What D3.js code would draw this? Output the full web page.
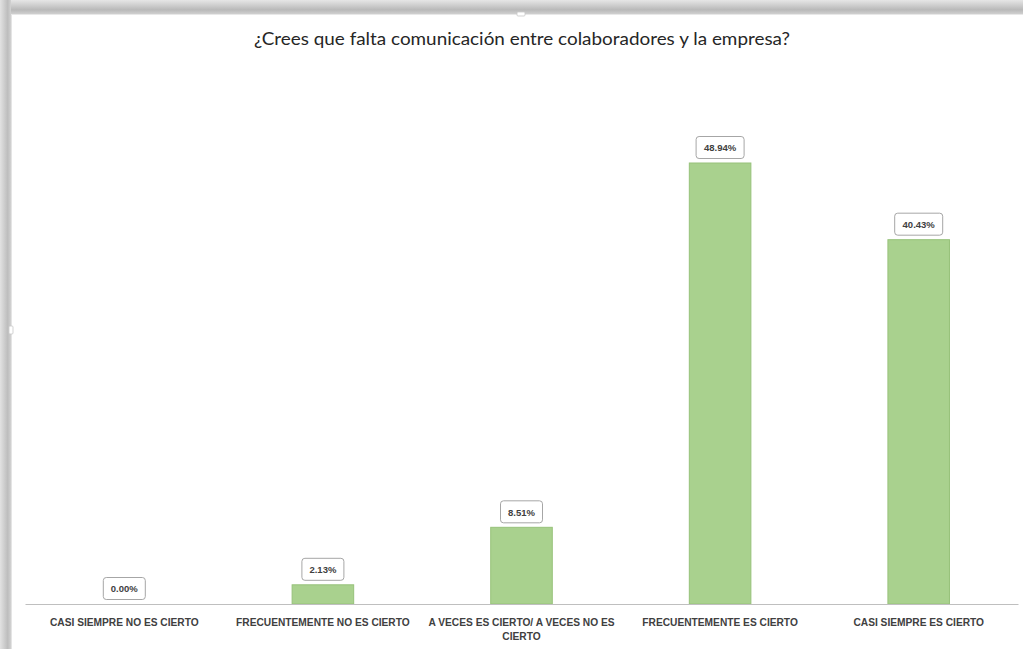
<!DOCTYPE html>
<html>
<head>
<meta charset="utf-8">
<script src="https://cdn.jsdelivr.net/npm/d3@7"></script>
<style>
  html, body { margin: 0; padding: 0; background: #fff; }
  svg { display: block; }
</style>
</head>
<body>
<svg id="chart" width="1023" height="649"></svg>
<script>
// Survey answers and their share of responses (%)
const categories = [
  "CASI SIEMPRE NO ES CIERTO",
  "FRECUENTEMENTE NO ES CIERTO",
  "A VECES ES CIERTO/ A VECES NO ES CIERTO",
  "FRECUENTEMENTE ES CIERTO",
  "CASI SIEMPRE ES CIERTO"
];
const values = [0.00, 2.13, 8.51, 48.94, 40.43];
const title = "¿Crees que falta comunicación entre colaboradores y la empresa?";

const W = 1023, H = 649;
const svg = d3.select("#chart");

// Card shadow around the chart area
const defs = svg.append("defs");
const gTop = defs.append("linearGradient").attr("id", "shTop").attr("x1", 0).attr("y1", 0).attr("x2", 0).attr("y2", 1);
gTop.append("stop").attr("offset", "0%").attr("stop-color", "#e6e6e6");
gTop.append("stop").attr("offset", "70%").attr("stop-color", "#b9b9b9");
gTop.append("stop").attr("offset", "100%").attr("stop-color", "#d0d0d0");
const gLeft = defs.append("linearGradient").attr("id", "shLeft").attr("x1", 0).attr("y1", 0).attr("x2", 1).attr("y2", 0);
gLeft.append("stop").attr("offset", "0%").attr("stop-color", "#e2e2e2");
gLeft.append("stop").attr("offset", "70%").attr("stop-color", "#bdbdbd");
gLeft.append("stop").attr("offset", "100%").attr("stop-color", "#d2d2d2");

svg.append("rect").attr("x", 0).attr("y", 0).attr("width", W).attr("height", H).attr("fill", "#fff");
svg.append("rect").attr("x", 0).attr("y", 0).attr("width", W).attr("height", 14).attr("fill", "url(#shTop)");
svg.append("rect").attr("x", 0).attr("y", 0).attr("width", 11).attr("height", H).attr("fill", "url(#shLeft)");
svg.append("line").attr("x1", 11.5).attr("x2", 11.5).attr("y1", 14).attr("y2", H).attr("stroke", "#e4e4e4");
svg.append("line").attr("x1", 11).attr("x2", W).attr("y1", 14.5).attr("y2", 14.5).attr("stroke", "#e8e8e8");

// small resize handles on the frame
svg.append("rect").attr("x", 9).attr("y", 326).attr("width", 4).attr("height", 8).attr("rx", 1)
  .attr("fill", "#fff").attr("stroke", "#c8c8c8").attr("stroke-width", 0.8);
svg.append("rect").attr("x", 517).attr("y", 12).attr("width", 8).attr("height", 4).attr("rx", 1)
  .attr("fill", "#fff").attr("stroke", "#c8c8c8").attr("stroke-width", 0.8);

// Title
svg.append("text")
  .attr("x", 522).attr("y", 45)
  .attr("text-anchor", "middle")
  .attr("font-family", "Lato, 'Open Sans', sans-serif")
  .attr("font-size", 17.5)
  .attr("textLength", 536)
  .attr("lengthAdjust", "spacingAndGlyphs")
  .attr("fill", "#262626")
  .text(title);

// Scales
const baseY = 604;
const x = d3.scaleBand().domain(categories).range([25, 1018]).paddingInner(0.69).paddingOuter(0.345);
const y = d3.scaleLinear().domain([0, 48.94]).range([baseY, 163]);

// Bars
svg.append("g").selectAll("rect").data(values).join("rect")
  .attr("x", (d, i) => x(categories[i]))
  .attr("y", d => y(d))
  .attr("width", x.bandwidth())
  .attr("height", d => baseY - y(d))
  .attr("fill", "#a9d18e")
  .attr("stroke", "#97c27a")
  .attr("stroke-width", 1);

// Category axis
const axis = d3.axisBottom(x).tickSize(0).tickPadding(0);
const ax = svg.append("g").attr("transform", `translate(0,${baseY})`).call(axis);
ax.select(".domain").attr("stroke", "#bfbfbf").attr("stroke-width", 1.2);
ax.selectAll(".tick text").remove();

// Category labels, wrapped when wider than the band step
const labelFont = "'Liberation Sans', sans-serif";
ax.selectAll(".tick").each(function(d) {
  const t = d3.select(this).append("text")
    .attr("text-anchor", "middle")
    .attr("font-family", labelFont)
    .attr("font-weight", "bold")
    .attr("font-size", 10.2)
    .attr("fill", "#404040");
  const lines = d === "A VECES ES CIERTO/ A VECES NO ES CIERTO"
    ? ["A VECES ES CIERTO/ A VECES NO ES", "CIERTO"] : [d];
  lines.forEach((ln, k) => {
    t.append("tspan").attr("x", 0).attr("y", 22 + k * 14).text(ln);
  });
});

// Value labels in rounded boxes above each bar
const lab = svg.append("g").selectAll("g").data(values).join("g")
  .attr("transform", (d, i) => `translate(${x(categories[i]) + x.bandwidth() / 2},${y(d) - 15})`);
lab.append("rect")
  .attr("x", d => d >= 10 ? -24 : -21).attr("y", -11.5)
  .attr("width", d => d >= 10 ? 48 : 42).attr("height", 22)
  .attr("rx", 3)
  .attr("fill", "#fff")
  .attr("stroke", "#a6a6a6")
  .attr("stroke-width", 1);
lab.append("text")
  .attr("text-anchor", "middle")
  .attr("dy", "0.35em")
  .attr("font-family", labelFont)
  .attr("font-weight", "bold")
  .attr("font-size", 9.5)
  .attr("fill", "#404040")
  .text(d => d.toFixed(2) + "%");
</script>
</body>
</html>
